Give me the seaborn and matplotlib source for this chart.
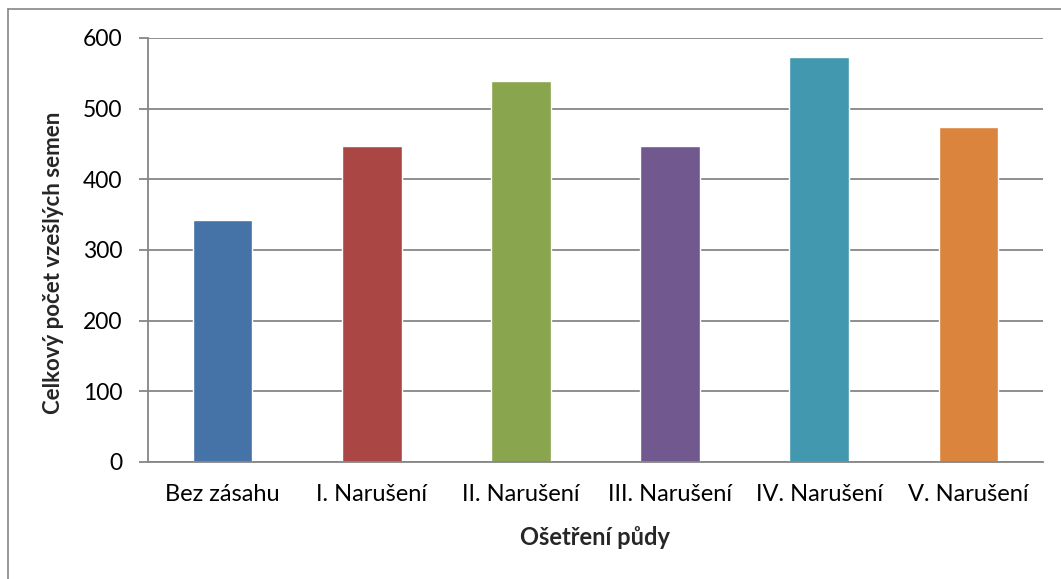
import numpy as np
import seaborn as sb
import pandas as pd
import matplotlib.pyplot as plt
from matplotlib.lines import Line2D

# data
categories = ['Bez zásahu', 'I. Narušení', 'II. Narušení', 'III. Narušení', 'IV. Narušení', 'V. Narušení']
counts = [343, 447, 539, 447, 573, 474]
colors = ['#4572A7', '#AA4643', '#89A54E', '#71588F', '#4198AF', '#DB843D']

data = pd.DataFrame({'treat': categories, 'count': counts})

sb.set_style("white")
plt.rcParams['font.family'] = ['Lato', 'DejaVu Sans']

fig = plt.figure(figsize=[10.61, 5.79], dpi=100)
ax = fig.add_axes([148 / 1061, 1 - 462 / 579, (1043 - 148) / 1061, (462 - 38) / 579])

sb.barplot(data=data, x='treat', y='count', hue='treat', palette=colors,
           width=0.4, legend=False, saturation=1, ax=ax)

grey = '#868686'
ax.set_ylim(0, 600)
ax.set_xlim(-0.5, len(categories) - 0.5)
ax.set_yticks(range(0, 601, 100))
ax.yaxis.grid(True, color=grey, linewidth=1.3)
ax.set_axisbelow(True)

for s in ['top', 'right']:
    ax.spines[s].set_visible(False)
for s in ['left', 'bottom']:
    ax.spines[s].set_color(grey)
    ax.spines[s].set_linewidth(1.3)

# category boundaries as minor ticks, labels without ticks
ax.set_xticks(np.arange(-0.5, len(categories), 1), minor=True)
ax.tick_params(axis='x', which='minor', length=6, width=1.3, color=grey, direction='out')
ax.tick_params(axis='x', which='major', length=0, labelsize=17, pad=16)
ax.tick_params(axis='y', length=6.5, width=1.3, color=grey, direction='out', labelsize=16.5, pad=12)
ax.tick_params(axis='both', labelcolor='black')
ax.tick_params(left=True, bottom=True)

ax.set_xlabel('Ošetření půdy', fontsize=17, fontweight='bold', labelpad=15)
ax.set_ylabel('Celkový počet vzešlých semen', fontsize=16, fontweight='bold')
ax.yaxis.set_label_coords((64 - 148) / 895, 0.47)

# chart border (top and left visible)
fig.add_artist(Line2D([8 / 1061, 8 / 1061], [0, 1 - 9 / 579], color=grey, lw=1.2, transform=fig.transFigure))
fig.add_artist(Line2D([8 / 1061, 1], [1 - 9 / 579, 1 - 9 / 579], color=grey, lw=1.2, transform=fig.transFigure))

fig.savefig('out.png', dpi=100)
